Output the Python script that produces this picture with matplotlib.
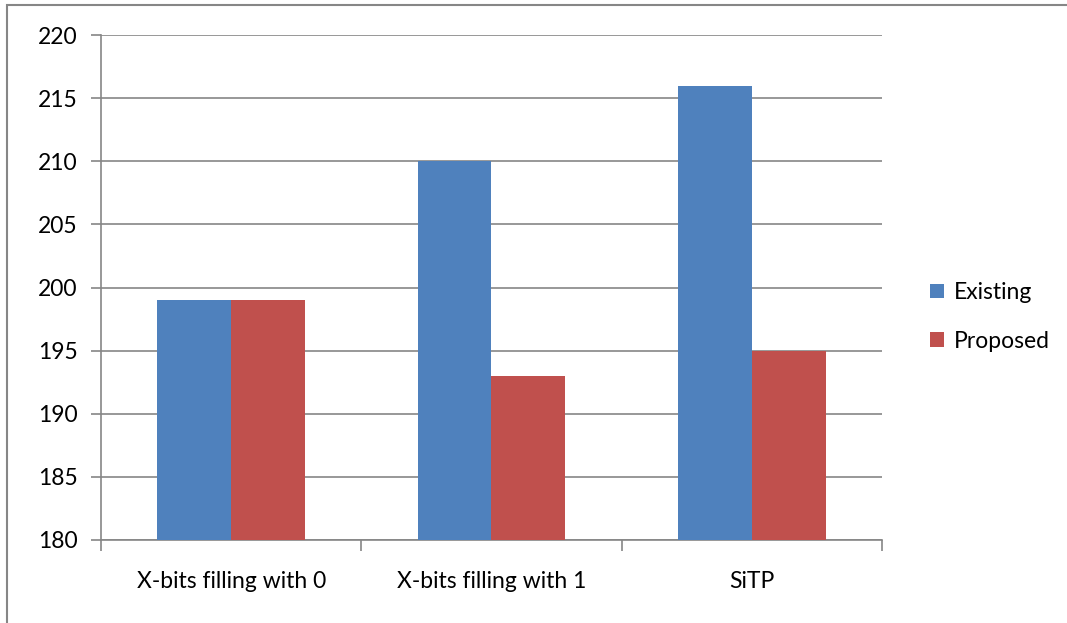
import matplotlib.pyplot as plt
from matplotlib.patches import Rectangle
import numpy as np

categories = ["X-bits filling with 0", "X-bits filling with 1", "SiTP"]
existing = [199, 210, 216]
proposed = [199, 193, 195]
series_names = ["Existing", "Proposed"]
yticks = [180, 185, 190, 195, 200, 205, 210, 215, 220]

plt.rcParams['font.family'] = ['Lato', 'DejaVu Sans']

W, H = 1067, 623
fig = plt.figure(figsize=(W/100, H/100), dpi=100)
ax = fig.add_axes([101/W, 1-540/H, (882-101)/W, (540-35)/H])

grid_c = '#868686'
fs = 16.5
x = np.arange(len(categories))
bw = 0.284
ax.bar(x - bw/2, np.array(existing) - 180, bw, bottom=180, color='#4F81BD', label=series_names[0], zorder=3)
ax.bar(x + bw/2, np.array(proposed) - 180, bw, bottom=180, color='#C0504D', label=series_names[1], zorder=3)

ax.set_xlim(-0.5, len(categories) - 0.5)
ax.set_ylim(180, 220)
ax.set_yticks(yticks)
ax.set_yticklabels([str(t) for t in yticks], fontsize=fs)
ax.yaxis.grid(True, color=grid_c, linewidth=1.2, zorder=0)
ax.set_axisbelow(True)

ax.set_xticks(np.arange(len(categories)+1) - 0.5)
ax.set_xticklabels([])
ax.set_xticks(x, minor=True)
ax.set_xticklabels(categories, minor=True, fontsize=fs)
ax.tick_params(axis='x', which='minor', length=0, pad=22)
ax.tick_params(axis='x', which='major', length=8, width=1.2, color=grid_c, direction='out')
ax.tick_params(axis='y', length=7, width=1.2, color=grid_c, pad=10)

for s in ['top', 'right']:
    ax.spines[s].set_visible(False)
for s in ['left', 'bottom']:
    ax.spines[s].set_color(grid_c)
    ax.spines[s].set_linewidth(1.2)

leg = fig.legend(loc='upper left', bbox_to_anchor=(921/W, 1-273/H), frameon=False,
                 fontsize=fs, handlelength=0.6, handleheight=0.6, handletextpad=0.45,
                 labelspacing=1.2, borderaxespad=0)

fig.patches.append(Rectangle((7/W, -0.1), 1.2, 1.1 - 5/H, transform=fig.transFigure,
                             fill=False, edgecolor=grid_c, linewidth=1.5))

fig.savefig('out.png', dpi=100)
